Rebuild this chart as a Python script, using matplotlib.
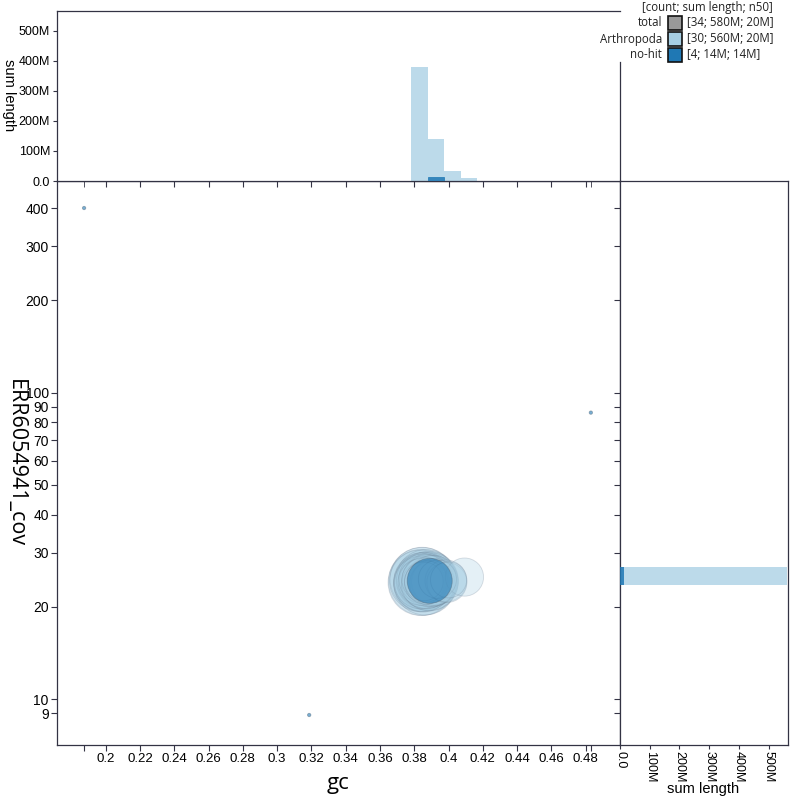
import numpy as np
import matplotlib
matplotlib.use("Agg")
import matplotlib.pyplot as plt
from matplotlib.patches import Rectangle
from matplotlib.lines import Line2D
from matplotlib.ticker import FixedLocator, FuncFormatter, NullLocator

# -----------------------------
# data
# -----------------------------
# Arthropoda contigs: gc, coverage, length (Mb)
arth_gc = [0.3848, 0.3840, 0.3845, 0.3862, 0.3835, 0.3868, 0.3852, 0.3850, 0.3858,
           0.3872, 0.3838, 0.3875, 0.3855, 0.3866, 0.3842, 0.3860, 0.3870, 0.3856,
           0.3885, 0.3890, 0.3895, 0.3900, 0.3910, 0.3920, 0.3905, 0.3935,
           0.3985, 0.3990, 0.4000, 0.4093]
arth_cov = [24.2, 24.0, 24.6, 23.8, 24.3, 24.5, 24.1, 23.9, 24.4,
            24.2, 24.0, 24.3, 24.7, 23.6, 24.1, 24.5, 24.0, 24.2,
            24.3, 24.0, 24.5, 24.2, 24.4, 24.1, 23.8, 24.6,
            24.3, 24.0, 24.5, 25.0]
arth_len = [31.7, 30, 28, 27, 26, 25, 24, 23, 21,
            20, 19, 18, 17, 16, 15, 14, 13, 10.3,
            24, 22, 20, 18, 17, 15, 14, 10,
            12, 11, 9, 10]

# no-hit contigs
nohit_gc = [0.3890, 0.1874, 0.4830, 0.3187]
nohit_cov = [24.3, 400, 86, 8.87]
nohit_len = [13.9, 0.04, 0.03, 0.03]

legend_labels = ["total", "Arthropoda", "no-hit"]
legend_values = ["[34; 580M; 20M]", "[30; 560M; 20M]", "[4; 14M; 14M]"]
legend_colors = ["#999999", "#a6cee3", "#1f78b4"]

y_ticks = [9, 10, 20, 30, 40, 50, 60, 70, 80, 90, 100, 200, 300, 400]
x_ticks = [0.2, 0.22, 0.24, 0.26, 0.28, 0.3, 0.32, 0.34, 0.36, 0.38, 0.4, 0.42, 0.44, 0.46, 0.48]
len_ticks = [0, 100, 200, 300, 400, 500]

light = "#a6cee3"
dark = "#1f78b4"
axis_col = "#333344"

# -----------------------------
# layout
# -----------------------------
fig = plt.figure(figsize=(8, 8), dpi=100)
L, R, B, T = 0.07125, 0.775, 0.06875, 0.77375
ax = fig.add_axes([L, B, R - L, T - B])
ax_top = fig.add_axes([L, T, R - L, 0.98625 - T], sharex=ax)
ax_right = fig.add_axes([R, B, 0.985 - R, T - B], sharey=ax)

# -----------------------------
# main scatter
# -----------------------------
px_per_sqrt = 12.07  # circle diameter in px per sqrt(Mb)


def sizes(lengths):
    d = np.maximum(np.sqrt(np.array(lengths)) * px_per_sqrt, 3.4)
    return (d * 0.72) ** 2


order = np.argsort(arth_len)[::-1]
ax.scatter(np.array(arth_gc)[order], np.array(arth_cov)[order],
           s=sizes(np.array(arth_len)[order]), facecolors=(0.651, 0.808, 0.890, 0.3),
           edgecolors=(0.4, 0.47, 0.55, 0.25), linewidths=0.6, zorder=2)
ax.scatter(nohit_gc, nohit_cov, s=sizes(nohit_len), facecolors=(0.122, 0.471, 0.706, 0.6),
           edgecolors=(0.3, 0.38, 0.45, 0.45), linewidths=0.6, zorder=3)

ax.set_yscale("log")
ax.set_xlim(0.1716, 0.5)
ax.set_ylim(7.08, 490)
ax.yaxis.set_major_locator(FixedLocator(y_ticks))
ax.yaxis.set_major_formatter(FuncFormatter(lambda v, p: f"{v:g}"))
ax.yaxis.set_minor_locator(NullLocator())
ax.xaxis.set_major_locator(FixedLocator(x_ticks))
ax.xaxis.set_major_formatter(FuncFormatter(lambda v, p: f"{v:g}"))
ax.xaxis.set_minor_locator(FixedLocator([nohit_gc[1], nohit_gc[2]]))
for lab in ax.get_xticklabels():
    lab.set_fontfamily("Liberation Sans")
    lab.set_fontsize(9.5)
for lab in ax.get_yticklabels():
    lab.set_fontfamily("Liberation Sans")
    lab.set_fontsize(10)
ax.tick_params(which="both", length=4, color=axis_col, width=0.8, pad=2)

fig.text(338 / 800, 1 - 783 / 800, "gc", ha="center", va="center",
         fontfamily="Open Sans", fontsize=16)
fig.text(15 / 800, 1 - 463 / 800, "ERR6054941_cov", ha="center", va="center",
         rotation=-90, fontfamily="Open Sans", fontsize=15.5)

# -----------------------------
# top histogram (gc)
# -----------------------------
gc_bins = 0.3782 + 0.0096 * np.arange(-22, 14)
ax_top.hist(arth_gc, bins=gc_bins, weights=np.array(arth_len) * 1e6,
            color=light, alpha=0.75, zorder=2)
ax_top.hist(nohit_gc, bins=gc_bins, weights=np.array(nohit_len) * 1e6,
            color=dark, alpha=0.85, edgecolor=dark, linewidth=0.6, zorder=3)
ax_top.set_ylim(0, 565e6)
ax_top.yaxis.set_major_locator(FixedLocator([t * 1e6 for t in len_ticks]))
ax_top.yaxis.set_major_formatter(FuncFormatter(lambda v, p: "0.0" if v == 0 else f"{v / 1e6:.0f}M"))
ax_top.tick_params(axis="x", which="both", labelbottom=False, length=4, color=axis_col)
ax_top.tick_params(axis="y", length=3, color=axis_col, pad=2)
for lab in ax_top.get_yticklabels():
    lab.set_fontfamily("Liberation Sans")
    lab.set_fontsize(9)
fig.text(9 / 800, 1 - 95 / 800, "sum length", ha="center", va="center",
         rotation=-90, fontfamily="Liberation Sans", fontsize=10.5)

# -----------------------------
# right histogram (coverage)
# -----------------------------
cov_bins = 10 ** (1.372 + 0.0577 * np.arange(-4, 26))
ax_right.hist(arth_cov, bins=cov_bins, weights=np.array(arth_len) * 1e6,
              orientation="horizontal", color=light, alpha=0.75, zorder=2)
ax_right.hist(nohit_cov, bins=cov_bins, weights=np.array(nohit_len) * 1e6,
              orientation="horizontal", color=dark, alpha=0.85, zorder=3)
ax_right.set_xlim(0, 565e6)
ax_right.xaxis.set_major_locator(FixedLocator([t * 1e6 for t in len_ticks]))
ax_right.xaxis.set_major_formatter(FuncFormatter(lambda v, p: "0.0" if v == 0 else f"{v / 1e6:.0f}M"))
ax_right.tick_params(axis="y", which="both", labelleft=False, length=4, color=axis_col)
ax_right.tick_params(axis="x", length=3, color=axis_col, pad=1)
for lab in ax_right.get_xticklabels():
    lab.set_fontfamily("Liberation Sans")
    lab.set_fontsize(9)
    lab.set_rotation(-90)
fig.text(703 / 800, 1 - 789 / 800, "sum length", ha="center", va="center",
         fontfamily="Liberation Sans", fontsize=10.5)

for a in (ax, ax_top, ax_right):
    for sp in a.spines.values():
        sp.set_color(axis_col)
        sp.set_linewidth(0.9)

# right spine of the top panel only shows below the legend
ax_top.spines["right"].set_visible(False)
fig.add_artist(Line2D([R, R], [1 - 62 / 800, T], transform=fig.transFigure,
                      color=axis_col, linewidth=0.9))

# -----------------------------
# legend (drawn by hand, top right)
# -----------------------------
leg_font = 8.3
fig.text(0.966, 1 - 7 / 800, "[count; sum length; n50]", ha="right", va="center",
         fontfamily="Open Sans", fontsize=leg_font, color="#222222")
for i, (lab, val, col) in enumerate(zip(legend_labels, legend_values, legend_colors)):
    yc = 1 - (23 + 16 * i) / 800
    fig.text(0.8275, yc, lab, ha="right", va="center",
             fontfamily="Open Sans", fontsize=leg_font, color="#222222")
    fig.patches.append(Rectangle((0.835, yc - 0.0085), 0.0175, 0.017, transform=fig.transFigure,
                                 facecolor=col, edgecolor="#111111", linewidth=1.2, zorder=6))
    fig.text(0.859, yc, val, ha="left", va="center",
             fontfamily="Open Sans", fontsize=leg_font, color="#222222")

fig.savefig("out.png", dpi=100)
